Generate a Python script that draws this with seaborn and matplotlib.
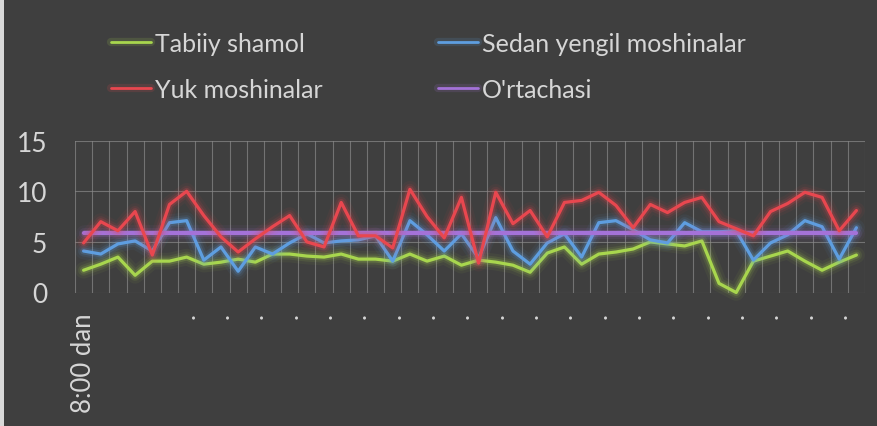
import numpy as np
import pandas as pd
import matplotlib
matplotlib.use("Agg")
import matplotlib.pyplot as plt
import matplotlib.patheffects as pe
from matplotlib.patches import Rectangle
from matplotlib.lines import Line2D
import seaborn as sns

# ---------------- data ----------------
x_labels = ["8:00 dan", "", "", "", "", "", ".", "", ".", "", ".", "", ".", "", ".", "",
            ".", "", ".", "", ".", "", ".", "", ".", "", ".", "", ".", "", ".", "",
            ".", "", ".", "", ".", "", ".", "", ".", "", ".", "", ".", ""]

tabiiy = [2.2, 2.8, 3.5, 1.7, 3.1, 3.1, 3.5, 2.8, 3.0, 3.3, 3.0, 3.8, 3.8, 3.6, 3.5, 3.8,
          3.3, 3.3, 3.1, 3.8, 3.1, 3.6, 2.7, 3.2, 3.0, 2.7, 2.0, 3.9, 4.5, 2.8, 3.8, 4.0,
          4.3, 5.0, 4.8, 4.6, 5.1, 0.9, 0.0, 3.1, 3.6, 4.1, 3.1, 2.2, 3.0, 3.7]
sedan = [4.1, 3.8, 4.8, 5.1, 4.1, 6.9, 7.1, 3.2, 4.5, 2.1, 4.5, 3.8, 4.9, 5.8, 4.9, 5.1,
         5.2, 5.6, 3.1, 7.1, 5.7, 4.1, 5.8, 3.4, 7.4, 4.1, 2.8, 4.9, 5.8, 3.5, 6.9, 7.1,
         6.2, 5.2, 4.9, 6.9, 6.0, 6.0, 6.1, 3.2, 4.9, 5.7, 7.1, 6.5, 3.3, 6.4]
yuk = [4.9, 7.0, 6.1, 8.0, 3.7, 8.7, 10.0, 7.6, 5.5, 4.0, 5.3, 6.5, 7.6, 5.0, 4.5, 8.9,
       5.6, 5.6, 4.4, 10.2, 7.5, 5.4, 9.4, 2.9, 9.9, 6.8, 8.1, 5.5, 8.9, 9.1, 9.9, 8.6,
       6.4, 8.7, 7.9, 8.9, 9.4, 7.0, 6.3, 5.6, 8.0, 8.8, 9.9, 9.4, 6.1, 8.1]
ortacha = [5.9] * 46

series_names = ["Tabiiy shamol", "Sedan yengil moshinalar", "Yuk moshinalar", "O'rtachasi"]
y_ticks = [0, 5, 10, 15]

# ---------------- style ----------------
BG = "#3f3f3f"
TXT = "#d6d6d6"
GRID = "#8a8a8a"
colors = {
    "Tabiiy shamol": "#a8d64e",
    "Sedan yengil moshinalar": "#5e9ee0",
    "Yuk moshinalar": "#e8474f",
    "O'rtachasi": "#a472d8",
}
widths = {"Tabiiy shamol": 2.3, "Sedan yengil moshinalar": 2.3,
          "Yuk moshinalar": 2.3, "O'rtachasi": 3.0}

sns.set_theme(style="dark")
plt.rcParams["font.family"] = ["Lato", "DejaVu Sans"]

idx = np.arange(len(x_labels))
df = pd.DataFrame({
    "idx": np.tile(idx, 4),
    "value": tabiiy + sedan + yuk + ortacha,
    "series": np.repeat(series_names, len(idx)),
})

fig = plt.figure(figsize=(8.78, 4.27), dpi=100, facecolor=BG)
ax = fig.add_axes([75 / 878, 1 - 293.5 / 427, 790 / 878, (293.5 - 141.7) / 427])
ax.set_facecolor(BG)

draw_order = ["Tabiiy shamol", "Sedan yengil moshinalar", "O'rtachasi", "Yuk moshinalar"]
for name in draw_order:
    sub = df[df["series"] == name]
    c = colors[name]
    sns.lineplot(data=sub, x="idx", y="value", color=c, linewidth=widths[name],
                 ax=ax, legend=False, clip_on=False, zorder=3)
    line = ax.lines[-1]
    line.set_path_effects([
        pe.Stroke(linewidth=12, foreground=c, alpha=0.06),
        pe.Stroke(linewidth=8, foreground=c, alpha=0.10),
        pe.Stroke(linewidth=5, foreground=c, alpha=0.20),
        pe.Normal(),
    ])

ax.set_xlim(-0.5, len(idx) - 0.5)
ax.set_ylim(0, 15)
ax.set_yticks(y_ticks)
ax.set_yticklabels([str(v) for v in y_ticks])
ax.set_xticks(idx)
ax.set_xticklabels(x_labels, rotation=90, ha="center", va="top")
ax.set_xticks(np.arange(-0.5, len(idx), 1), minor=True)
ax.tick_params(axis="x", which="both", length=0, pad=14, labelsize=18.5, colors=TXT)
ax.tick_params(axis="y", length=0, pad=20, labelsize=19, colors=TXT)
for lbl in ax.get_yticklabels():
    lbl.set_color(TXT)
ax.grid(False)
ax.grid(which="minor", axis="x", color=GRID, linewidth=0.8, alpha=0.7, zorder=0)
ax.grid(which="major", axis="y", color=GRID, linewidth=0.8, alpha=0.7, zorder=0)
ax.set_axisbelow(True)
ax.set_xlabel("")
ax.set_ylabel("")
for s in ax.spines.values():
    s.set_visible(False)

# legend (2 columns, 2 rows)
legend_order = ["Tabiiy shamol", "Yuk moshinalar", "Sedan yengil moshinalar", "O'rtachasi"]
handles = []
for name in legend_order:
    c = colors[name]
    h = Line2D([], [], color=c, linewidth=2.0)
    h.set_path_effects([pe.Stroke(linewidth=6, foreground=c, alpha=0.15), pe.Normal()])
    handles.append(h)
leg = fig.legend(handles, legend_order, ncol=2, loc="upper left",
                 bbox_to_anchor=(111 / 878, 1 - 33 / 427), frameon=False,
                 borderpad=0, borderaxespad=0,
                 fontsize=18, handlelength=1.6, handletextpad=0.15,
                 columnspacing=4.62, labelspacing=0.9, labelcolor=TXT)

# light left edge
fig.patches.append(Rectangle((0, 0), 4 / 878, 1, transform=fig.transFigure,
                             facecolor="#d9d9d9", edgecolor="none"))

fig.savefig("out.png", dpi=100, facecolor=BG)
